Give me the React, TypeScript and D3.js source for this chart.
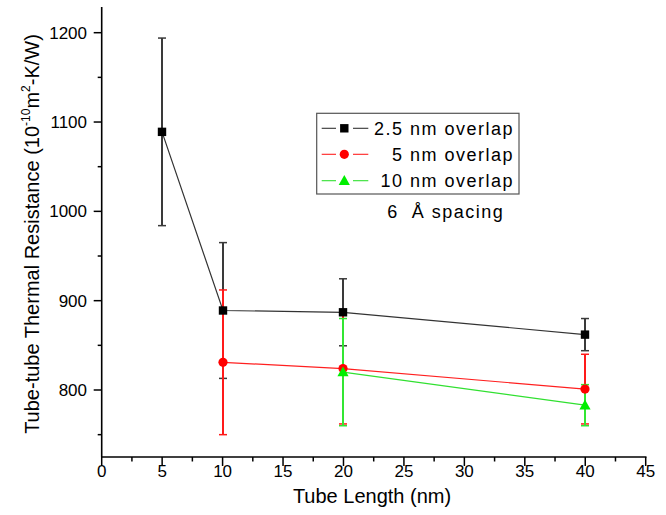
import React from "react";
import * as d3 from "d3";

const xTicks = [0, 5, 10, 15, 20, 25, 30, 35, 40, 45];
const yTicks = [800, 900, 1000, 1100, 1200];

const blackX = [5, 10, 20, 40];
const blackY = [1089, 889, 887, 862];
const blackErr = [105, 76, 37.5, 18];

const redX = [10, 20, 40];
const redY = [831, 824, 801];
const redErr = [81, 62, 39];

const greenX = [20, 40];
const greenY = [820, 783];
const greenErr = [60, 23];

const legendLabels = ["2.5 nm overlap", "5 nm overlap", "10 nm overlap"];

const W = 666;
const H = 515;
const FONT = "'Liberation Sans', Arial, sans-serif";

export default function App() {
  const x = d3.scaleLinear().domain([0, 45]).range([101.7, 645.7]);
  const y = d3.scaleLinear().domain([800, 1200]).range([390, 32.7]);
  const yBottom = 457;
  const yTop = 7;
  const px = (v: number) => Math.round(v);

  const series = [
    { xs: blackX, ys: blackY, es: blackErr, line: "#333", err: "#3a3a3a", fill: "#000", shape: "square" },
    { xs: redX, ys: redY, es: redErr, line: "#ff2020", err: "#ff1a1a", fill: "#ff0000", shape: "circle" },
    { xs: greenX, ys: greenY, es: greenErr, line: "#30e030", err: "#33e633", fill: "#00ee00", shape: "triangle" },
  ];

  const lineGen = d3.line<[number, number]>().x((d) => px(x(d[0]))).y((d) => y(d[1]));

  const marker = (shape: string, cx: number, cy: number, fill: string, key: string) => {
    if (shape === "square") return <rect key={key} x={cx - 4.2} y={cy - 4.2} width={8.4} height={8.4} fill={fill} />;
    if (shape === "circle") return <circle key={key} cx={cx} cy={cy} r={4.6} fill={fill} />;
    const s = 5.6;
    return <path key={key} d={`M${cx},${cy - s}L${cx + s},${cy + s * 0.75}L${cx - s},${cy + s * 0.75}Z`} fill={fill} />;
  };

  const minorX = d3.range(0, 45.01, 2.5).filter((v) => v % 5 !== 0);
  const minorY = [750, 850, 950, 1050, 1150];

  const legX = 316.7;
  const legY = 113.3;
  const rowYs = [128.3, 154.3, 180.7];

  return (
    <div style={{ position: "fixed", left: 0, top: 0 }}>
      <svg width={W} height={H} style={{ display: "block", background: "#fff", fontFamily: FONT }}>
        <rect width={W} height={H} fill="#fff" />
        {/* axes */}
        <line x1={x(0)} x2={x(0)} y1={yTop} y2={yBottom} stroke="#000" strokeWidth={1.6} />
        <line x1={x(0)} x2={x(45) + 0.8} y1={yBottom} y2={yBottom} stroke="#000" strokeWidth={1.6} />
        {xTicks.map((t) => (
          <g key={"xt" + t}>
            <line x1={x(t)} x2={x(t)} y1={yBottom} y2={yBottom + 9} stroke="#000" strokeWidth={1.5} />
            <text x={x(t)} y={476.5} textAnchor="middle" fontSize={17} fill="#000">{t}</text>
          </g>
        ))}
        {minorX.map((t) => (
          <line key={"xm" + t} x1={x(t)} x2={x(t)} y1={yBottom} y2={yBottom + 4.5} stroke="#000" strokeWidth={1.5} />
        ))}
        {yTicks.map((t) => (
          <g key={"yt" + t}>
            <line x1={x(0) - 8} x2={x(0)} y1={y(t)} y2={y(t)} stroke="#000" strokeWidth={1.5} />
            <text x={87} y={y(t) + 6} textAnchor="end" fontSize={17} fill="#000">{t}</text>
          </g>
        ))}
        {minorY.map((t) => (
          <line key={"ym" + t} x1={x(0) - 4} x2={x(0)} y1={y(t)} y2={y(t)} stroke="#000" strokeWidth={1.5} />
        ))}
        <text x={372} y={503} textAnchor="middle" fontSize={20} fill="#000">Tube Length (nm)</text>
        <text transform={`translate(39,234) rotate(-90)`} textAnchor="middle" fontSize={20} fill="#000">
          Tube-tube Thermal Resistance (10
          <tspan fontSize={12} dy={-9}>-10</tspan>
          <tspan dy={9}>m</tspan>
          <tspan fontSize={12} dy={-9}>2</tspan>
          <tspan dy={9}>-K/W)</tspan>
        </text>

        {/* error bars */}
        {series.map((s, si) =>
          s.xs.map((xv, i) => {
            const cx = px(x(xv));
            const y1 = y(s.ys[i] + s.es[i]);
            const y2 = y(s.ys[i] - s.es[i]);
            return (
              <g key={`e${si}-${i}`} stroke={s.err} strokeWidth={2}>
                <line x1={cx} x2={cx} y1={y1} y2={y2} />
                <line x1={cx - 4} x2={cx + 4} y1={y1} y2={y1} strokeWidth={1.5} />
                <line x1={cx - 4} x2={cx + 4} y1={y2} y2={y2} strokeWidth={1.5} />
              </g>
            );
          })
        )}
        {/* lines */}
        {series.map((s, si) => (
          <path
            key={"l" + si}
            d={lineGen(s.xs.map((xv, i) => [xv, s.ys[i]] as [number, number])) || ""}
            fill="none"
            stroke={s.line}
            strokeWidth={1.2}
          />
        ))}
        {/* markers */}
        {series.map((s, si) => s.xs.map((xv, i) => marker(s.shape, px(x(xv)), y(s.ys[i]), s.fill, `m${si}-${i}`)))}

        {/* legend */}
        <rect x={legX} y={legY} width={519 - legX} height={194 - legY} fill="#fff" stroke="#555" strokeWidth={1.2} />
        {series.map((s, si) => (
          <g key={"lg" + si}>
            <line x1={321.7} x2={336} y1={rowYs[si]} y2={rowYs[si]} stroke={s.line} strokeWidth={1.1} />
            <line x1={353} x2={368.3} y1={rowYs[si]} y2={rowYs[si]} stroke={s.line} strokeWidth={1.1} />
            {marker(s.shape, 344.3, rowYs[si], s.fill, "lm" + si)}
            <text x={514} y={rowYs[si] + 6.5} textAnchor="end" fontSize={18} letterSpacing={1.5} fill="#000">
              {legendLabels[si]}
            </text>
          </g>
        ))}
        <text x={387.3} y={218} fontSize={18} letterSpacing={1.5} fill="#000" style={{ whiteSpace: "pre" }}>
          {"6  Å spacing"}
        </text>
      </svg>
    </div>
  );
}
